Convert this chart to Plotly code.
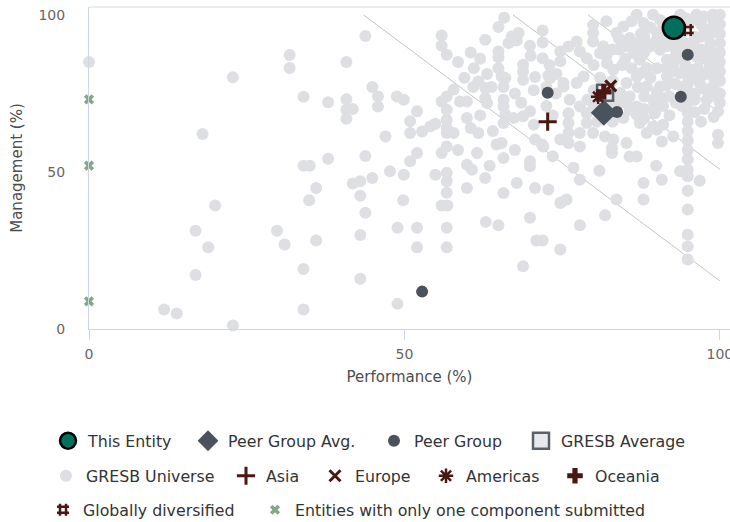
import plotly.graph_objects as go

# ---------------- data ----------------
entity_perf = [92.7]
entity_mgmt = [95.9]

peer_avg_perf = [81.6]
peer_avg_mgmt = [68.8]

peer_perf = [94.9, 93.8, 72.7, 83.7, 52.8]
peer_mgmt = [87.3, 73.9, 75.2, 69.1, 11.9]

gresb_avg_perf = [81.8]
gresb_avg_mgmt = [75.2]

asia_perf = [72.7]
asia_mgmt = [66.0]
europe_perf = [82.7]
europe_mgmt = [77.4]
americas_perf = [80.7]
americas_mgmt = [73.9]
oceania_perf = [81.6]
oceania_mgmt = [75.5]
global_perf = [94.9]
global_mgmt = [95.2]

single_perf = [0, 0, 0]
single_mgmt = [73.1, 52.0, 8.8]

# GRESB universe - sparse left part
univ_perf_left = [0, 22.8, 31.8, 31.8, 40.8, 43.8, 44.9, 45.8, 45.8, 34.0, 37.9, 40.8, 40.8, 41.8,
                  40.8, 18.0, 43.8, 37.9, 34.0, 35.0, 44.9, 43.0, 41.8, 36.0, 43.0, 34.9, 20.0, 43.8,
                  16.9, 29.8, 31.0, 18.9, 36.0, 43.0, 16.9, 34.0, 43.0, 11.9, 13.9, 34.0, 22.8]
univ_mgmt_left = [85.0, 80.1, 87.2, 83.1, 85.0, 93.3, 77.0, 74.0, 70.8, 73.9, 72.2, 73.1, 69.8, 70.0,
                  66.9, 62.1, 55.1, 54.2, 52.0, 52.0, 48.1, 47.0, 46.3, 44.9, 42.4, 41.0, 39.3, 37.0,
                  31.3, 31.3, 26.9, 26.0, 28.2, 29.9, 17.2, 19.1, 16.0, 6.2, 4.9, 6.2, 1.1]

# GRESB universe - middle part
univ_perf_mid = [55.9, 55.9, 56.7, 62.8, 64.9, 65.8, 67.0, 68.1, 67.8, 69.9, 71.9, 71.9, 71.9, 64.9,
                 64.9, 64.9, 63.1, 65.4, 66.0, 68.8, 68.8, 68.8, 70.7, 72.8, 74.1, 74.7, 74.7, 75.2,
                 61.7, 60.9, 62.8, 63.8, 65.7, 57.8, 56.7, 55.9, 58.8, 59.9, 62.8, 63.1, 65.7, 65.7,
                 66.0, 67.3, 68.8, 69.9, 65.7, 70.7, 71.8, 65.4, 64.6, 65.7, 69.9, 69.9, 67.8, 70.7,
                 72.8, 52.0, 50.9, 52.8, 50.9, 54.1, 54.9, 56.7, 56.7, 56.7, 56.7, 57.8, 59.9, 61.7,
                 47.0, 48.8, 49.9, 47.7, 49.9, 52.0, 50.9, 54.9, 55.9, 56.7, 56.7, 56.7, 59.9, 60.7,
                 62.8, 56.7, 59.9, 65.7, 74.7, 49.8, 55.9, 56.8, 62.9, 64.9, 69.9, 48.9, 52.0, 56.7,
                 70.9, 71.9, 74.7, 52.0, 56.7, 68.8, 48.9,
                 58.5, 60.5, 61.0, 59.5, 62.0, 66.5, 70.0, 73.0, 70.5, 72.5, 74.0, 67.5, 68.5, 72.5,
                 73.5, 70.5, 62.0, 60.5, 64.0, 58.5, 61.5, 63.5, 67.5, 73.5]
univ_mgmt_mid = [93.4, 90.2, 87.3, 92.1, 96.1, 99.1, 93.1, 94.2, 91.8, 90.2, 95.0, 91.2, 86.2, 88.3,
                 86.5, 83.0, 81.2, 80.4, 79.9, 84.1, 82.0, 79.3, 80.2, 80.6, 81.2, 88.3, 85.2, 78.3,
                 78.8, 77.0, 76.7, 77.0, 77.0, 76.2, 74.0, 72.4, 72.4, 72.4, 73.5, 71.9, 73.0, 70.8,
                 68.2, 67.2, 67.7, 69.3, 65.6, 60.3, 58.7, 59.2, 58.7, 54.4, 53.4, 51.8, 46.5, 44.9,
                 44.4, 69.3, 66.1, 62.9, 62.4, 64.5, 65.3, 69.8, 66.6, 64.0, 62.4, 62.4, 67.2, 62.4,
                 61.3, 74.0, 73.0, 50.2, 49.1, 56.0, 53.4, 49.1, 56.0, 58.1, 49.7, 47.0, 52.3, 50.7,
                 48.1, 43.4, 44.9, 43.3, 40.1, 41.0, 39.3, 39.3, 34.1, 33.0, 35.4, 32.2, 32.2, 32.2,
                 28.2, 28.2, 25.3, 26.0, 26.0, 20.0, 8.0,
                 85.0, 88.0, 83.0, 80.0, 86.0, 91.0, 87.0, 84.0, 76.0, 77.0, 75.0, 75.0, 72.0, 71.0,
                 68.0, 65.0, 68.0, 64.0, 63.0, 57.0, 56.0, 52.0, 57.0, 55.0]

# GRESB universe - lower right part
univ_perf_right = [72.0, 76.0, 76.0, 76.0, 76.0, 78.9, 78.9, 77.8, 79.9, 81.8, 74.7, 77.8, 82.9, 82.9,
                   85.7, 86.8, 76.8, 80.9, 83.6, 81.8, 77.8, 87.9, 87.9, 89.9, 90.8, 93.7, 96.8, 74.8,
                   75.7, 99.7, 99.7, 99.7, 92.6, 90.8, 90.0, 89.7, 85.7, 86.8, 87.3, 84.7, 83.1, 85.2,
                   77.8, 89.4, 88.4,
                   94.9, 94.9, 94.9, 94.9, 94.9, 94.9, 94.9, 94.9, 94.9, 94.9, 94.9, 94.9, 94.9, 94.9,
                   94.9, 94.9, 94.9]
univ_mgmt_right = [58.1, 68.7, 65.6, 62.4, 59.2, 68.7, 65.6, 62.4, 62.4, 61.3, 60.3, 58.1, 57.6, 56.0,
                   54.9, 54.9, 51.3, 50.4, 41.2, 36.2, 33.0, 46.5, 41.2, 52.0, 47.5, 50.2, 47.2, 40.3,
                   41.2, 69.3, 61.8, 59.2, 61.3, 59.7, 63.4, 68.7, 69.8, 68.2, 65.6, 67.2, 60.3, 59.2,
                   47.5, 64.5, 62.4,
                   82.0, 78.0, 75.0, 72.0, 69.0, 66.0, 63.0, 60.0, 57.0, 54.0, 50.7, 48.6, 44.0, 38.0,
                   30.0, 26.3, 22.1]

# GRESB universe - dense upper right part
univ_perf_top = [73.1, 76.0, 77.3, 77.8, 78.9, 79.9, 79.9, 79.9, 81.0, 82.1, 83.1, 83.6, 84.7, 85.7,
                 86.8, 87.9, 86.3, 87.3, 88.4, 90.0, 90.5, 91.6, 89.4, 90.5, 93.7, 96.3, 98.9, 100.0,
                 98.4, 98.4, 98.4, 100.0, 100.0, 100.0, 100.0, 100.0, 100.0, 100.0, 100.0, 100.0,
                 95.8, 96.3, 95.8, 92.6, 93.7, 91.6, 90.5, 89.4, 88.4, 86.8, 85.2, 84.2, 85.7, 86.8,
                 95.3, 96.8, 98.9, 97.9, 75.2, 77.3, 78.4, 76.2, 77.8,
                 82.0, 81.5, 84.0, 85.0, 83.0, 80.0, 88.0, 89.0, 92.0, 92.0, 93.0, 94.0, 95.0, 97.0,
                 97.0, 97.0, 96.5, 98.5, 99.0, 99.0, 94.0, 93.0, 92.0, 96.0, 97.5, 94.0, 91.0, 88.0,
                 84.0, 81.0, 88.0, 87.0, 91.5, 95.0, 80.0, 79.0, 82.5, 83.0, 80.5, 81.0,
                 86.0, 87.5, 89.0, 90.0, 91.0, 92.5, 93.0, 94.5, 96.0, 97.5, 99.0, 99.0, 97.5, 96.0,
                 94.5, 93.0, 91.0, 89.5, 88.0, 86.5, 85.0, 84.0, 83.0, 82.0, 84.5, 86.0, 87.5, 89.0,
                 90.0, 91.5, 93.0, 94.5, 96.0, 97.5, 99.0, 99.0, 97.5, 96.0, 94.5, 93.0, 91.5, 90.0,
                 88.0, 87.0, 89.5, 91.0, 93.0, 94.0, 96.0, 97.5, 98.5, 99.0, 97.0, 96.0, 92.0, 91.0,
                 88.0, 85.0, 83.0, 80.0]
univ_mgmt_top = [79.9, 89.9, 91.5, 88.3, 86.2, 96.8, 94.2, 91.5, 87.8, 84.6, 82.5, 94.2, 96.3, 92.6,
                 100.0, 97.4, 87.8, 85.7, 83.1, 92.1, 88.9, 85.7, 100.0, 98.4, 100.0, 100.0, 100.0, 100.0,
                 94.2, 88.9, 83.6, 97.0, 94.0, 91.0, 88.0, 85.0, 82.0, 79.0, 75.0, 72.0,
                 91.0, 86.7, 82.5, 84.6, 81.5, 80.4, 77.2, 73.0, 77.2, 80.4, 78.3, 75.1, 74.0, 70.8,
                 75.1, 78.3, 77.2, 73.0, 77.2, 78.3, 80.4, 73.0, 70.8,
                 98.0, 90.0, 89.0, 86.0, 79.0, 84.0, 93.0, 90.0, 96.0, 93.0, 89.0, 94.0, 97.0, 97.0,
                 93.0, 89.0, 83.0, 91.0, 86.0, 80.0, 86.0, 78.0, 74.0, 75.0, 70.0, 71.0, 71.0, 70.0,
                 72.0, 80.0, 88.0, 91.0, 90.0, 79.0, 76.0, 73.0, 71.0, 66.0, 66.0, 70.0,
                 98.0, 94.0, 96.0, 94.5, 97.0, 98.0, 95.0, 99.0, 99.0, 99.5, 97.5, 94.5, 95.5, 93.0,
                 91.0, 91.5, 93.0, 91.0, 90.0, 90.0, 90.0, 92.5, 89.0, 87.0, 84.0, 83.0, 81.5, 80.0,
                 83.0, 83.0, 87.0, 88.0, 89.5, 86.0, 83.0, 77.0, 81.0, 80.0, 84.0, 82.0, 77.5, 75.5,
                 74.0, 77.0, 70.5, 73.5, 72.0, 77.0, 73.0, 76.5, 74.0, 67.5, 66.0, 69.0, 68.0, 65.0,
                 67.0, 72.0, 74.0, 70.5]

# score threshold lines: performance at management=100, management at performance=100
line_start_perf = [43.5, 67.2, 79.1, 88.6]
line_end_mgmt = [15.3, 50.8, 68.7, 83.0]

x_ticks = [0, 50, 100]
y_ticks = [0, 50, 100]

# ---------------- figure ----------------
BROWN = "#4a1712"
FONT = "DejaVu Sans"

fig = go.Figure()

for p0, m1 in zip(line_start_perf, line_end_mgmt):
    fig.add_trace(go.Scatter(x=[p0, 100], y=[100, m1], mode="lines",
                             line=dict(color="#c4c4c4", width=1),
                             showlegend=False, hoverinfo="skip"))

univ_perf = univ_perf_left + univ_perf_mid + univ_perf_right + univ_perf_top
univ_mgmt = univ_mgmt_left + univ_mgmt_mid + univ_mgmt_right + univ_mgmt_top

fig.add_trace(go.Scatter(x=univ_perf, y=univ_mgmt, mode="markers", name="GRESB Universe",
                         marker=dict(color="#dedfe2", size=12, line=dict(width=0)),
                         cliponaxis=False, legend="legend5"))
fig.add_trace(go.Scatter(x=peer_perf, y=peer_mgmt, mode="markers", name="Peer Group",
                         marker=dict(color="#4a535b", size=12, line=dict(width=0)),
                         cliponaxis=False, legend="legend3"))
fig.add_trace(go.Scatter(x=single_perf, y=single_mgmt, mode="markers",
                         name="Entities with only one component submitted",
                         marker=dict(color="#82a884", size=9, symbol="x", line=dict(width=0)),
                         cliponaxis=False, legend="legend11"))
fig.add_trace(go.Scatter(x=peer_avg_perf, y=peer_avg_mgmt, mode="markers", name="Peer Group Avg.",
                         marker=dict(color="#4a535b", size=20, symbol="diamond", line=dict(width=0)),
                         cliponaxis=False, legend="legend2"))
fig.add_trace(go.Scatter(x=gresb_avg_perf, y=gresb_avg_mgmt, mode="markers", name="GRESB Average",
                         marker=dict(color="#e8e9ef", size=16, symbol="square",
                                     line=dict(color="#59626a", width=2.5)),
                         cliponaxis=False, legend="legend4"))
fig.add_trace(go.Scatter(x=asia_perf, y=asia_mgmt, mode="markers", name="Asia",
                         marker=dict(size=13, symbol="cross-thin", line=dict(color=BROWN, width=3)),
                         cliponaxis=False, legend="legend6"))
fig.add_trace(go.Scatter(x=europe_perf, y=europe_mgmt, mode="markers", name="Europe",
                         marker=dict(size=11, symbol="x-thin", line=dict(color=BROWN, width=3)),
                         cliponaxis=False, legend="legend7"))
fig.add_trace(go.Scatter(x=americas_perf, y=americas_mgmt, mode="markers", name="Americas",
                         marker=dict(size=12, symbol="asterisk", line=dict(color=BROWN, width=2.5)),
                         cliponaxis=False, legend="legend8"))
fig.add_trace(go.Scatter(x=oceania_perf, y=oceania_mgmt, mode="markers", name="Oceania",
                         marker=dict(size=13, symbol="cross", color=BROWN, line=dict(width=0)),
                         cliponaxis=False, legend="legend9"))
fig.add_trace(go.Scatter(x=global_perf, y=global_mgmt, mode="markers", name="Globally diversified",
                         marker=dict(size=12, symbol="hash", line=dict(color=BROWN, width=2.5)),
                         cliponaxis=False, legend="legend10"))
fig.add_trace(go.Scatter(x=entity_perf, y=entity_mgmt, mode="markers", name="This Entity",
                         marker=dict(color="#006f5c", size=22, symbol="circle",
                                     line=dict(color="#000000", width=2.5)),
                         cliponaxis=False, legend="legend"))

# plot area in pixels
L, R, T, B = 89, 730, 7, 329
W, H = R - L, B - T


def px_x(px):
    return (px - L) / W


def px_y(py):
    return (B - py) / H


legend_font = dict(family=FONT, size=15.8, color="#333333")
# symbol centre positions (px) of each legend entry
legend_pos = {
    "legend": (68, 441), "legend2": (208, 441), "legend3": (394, 441), "legend4": (541, 441),
    "legend5": (66, 476), "legend6": (246, 476), "legend7": (335, 476), "legend8": (446, 476),
    "legend9": (575, 476),
    "legend10": (63, 510), "legend11": (275, 510),
}
legends = {}
for key, (cx, cy) in legend_pos.items():
    legends[key] = dict(x=px_x(cx - 20), y=px_y(cy), xanchor="left", yanchor="middle",
                        orientation="h", font=legend_font, bgcolor="rgba(0,0,0,0)",
                        borderwidth=0, itemclick=False)

fig.update_layout(
    width=730, height=522,
    margin=dict(l=L, r=730 - R, t=T, b=522 - B, pad=0, autoexpand=False),
    paper_bgcolor="white", plot_bgcolor="white",
    font=dict(family=FONT, color="#666666"),
    showlegend=True,
    xaxis=dict(range=[0, 101.6], tickvals=x_ticks, showgrid=False, zeroline=False,
               automargin=False, ticklabeloverflow="allow", ticklabelstandoff=2,
               showline=True, linecolor="#ccd6eb", linewidth=1,
               ticks="outside", ticklen=10, tickcolor="#ccd6eb",
               tickfont=dict(family=FONT, size=14, color="#666666"),
               title=dict(text="Performance (%)", standoff=10,
                          font=dict(family=FONT, size=15, color="#4d4d4d"))),
    yaxis=dict(range=[0, 102.5], tickvals=y_ticks, showgrid=False, zeroline=False,
               automargin=False, ticklabeloverflow="allow",
               showline=True, linecolor="#ccd6eb", linewidth=1, ticks="",
               ticklabelstandoff=20,
               tickfont=dict(family=FONT, size=14, color="#666666"),
               title=dict(text="Management (%)", standoff=12,
                          font=dict(family=FONT, size=15, color="#4d4d4d"))),
    shapes=[dict(type="line", xref="paper", yref="paper", x0=0, x1=1, y0=1, y1=1,
                 line=dict(color="#d8d8d8", width=1))],
    **legends,
)

fig.write_html("out.html", config={"displayModeBar": False},
               post_script="document.body.style.margin='0';")
